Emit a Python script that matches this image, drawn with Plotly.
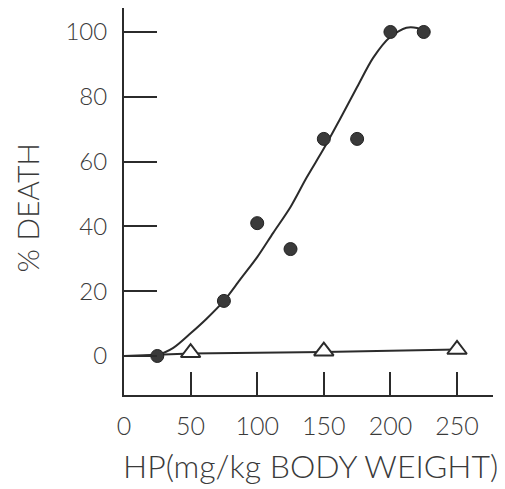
import plotly.graph_objects as go

# Data
hp_dose = [25, 75, 100, 125, 150, 175, 200, 225]
hp_death = [0, 17, 41, 33, 67, 67, 100, 100]

ctrl_dose = [50, 150, 250]
ctrl_death = [1, 1.5, 2]

ctrl_line_x = [0, 50, 150, 250]
ctrl_line_y = [0, 0.8, 1.2, 2]

fit_x = [0, 12, 25, 37, 50, 62, 75, 87, 100, 112, 125, 137, 150, 162, 175, 187, 200, 212, 220, 226]
fit_y = [0, 0, 0.3, 2.5, 7, 11.5, 17, 23.5, 30.5, 38, 46, 55, 64, 73, 83, 92, 98.5, 101.3, 101.2, 100]

x_ticks = [0, 50, 100, 150, 200, 250]
y_ticks = [0, 20, 40, 60, 80, 100]

ink = "#2b2b2b"
txt = "#3a3a3a"
font_family = "'Lato Light', Lato, 'Noto Sans', sans-serif"

fig = go.Figure()
fig.add_trace(go.Scatter(x=fit_x, y=fit_y, mode="lines",
                         line=dict(color=ink, width=2, shape="spline", smoothing=0.8),
                         hoverinfo="skip"))
fig.add_trace(go.Scatter(x=ctrl_line_x, y=ctrl_line_y, mode="lines",
                         line=dict(color=ink, width=2), hoverinfo="skip"))
fig.add_trace(go.Scatter(x=hp_dose, y=hp_death, mode="markers",
                         marker=dict(symbol="circle", size=13, color="#3a3a3a",
                                     line=dict(color="#222", width=1))))
fig.add_trace(go.Scatter(x=ctrl_dose, y=ctrl_death, mode="markers",
                         marker=dict(symbol="triangle-up", size=17, color="white",
                                     line=dict(color=ink, width=2))))

fig.update_layout(
    width=497, height=481,
    margin=dict(l=116, r=12, t=0, b=94),
    paper_bgcolor="white", plot_bgcolor="white",
    showlegend=False,
    font=dict(family=font_family, color=txt, size=25),
    xaxis=dict(range=[0, 277], tickvals=x_ticks, ticks="inside", ticklen=23,
               tickwidth=2, tickcolor=ink, showline=True, linecolor=ink, linewidth=2,
               showgrid=False, zeroline=False, automargin=False, ticklabelstandoff=8,
               tickfont=dict(size=25, color=txt, family=font_family)),
    yaxis=dict(range=[-12.04, 107.4], tickvals=y_ticks, ticks="inside", ticklen=33,
               tickwidth=2, tickcolor=ink, showline=True, linecolor=ink, linewidth=2,
               showgrid=False, zeroline=False, ticklabelstandoff=10, automargin=False,
               tickfont=dict(size=24, color=txt, family=font_family)),
    annotations=[
        dict(text="% DEATH", xref="paper", yref="paper", x=-0.262, y=0.483,
             xanchor="center", yanchor="middle", textangle=-90, showarrow=False,
             font=dict(size=30, color=txt, family=font_family)),
        dict(text="HP(mg/kg BODY WEIGHT)", xref="paper", yref="paper", x=1.019, y=-0.183,
             xanchor="right", yanchor="middle", showarrow=False,
             font=dict(size=32, color=txt, family=font_family)),
    ],
)

fig.write_html("out.html")
